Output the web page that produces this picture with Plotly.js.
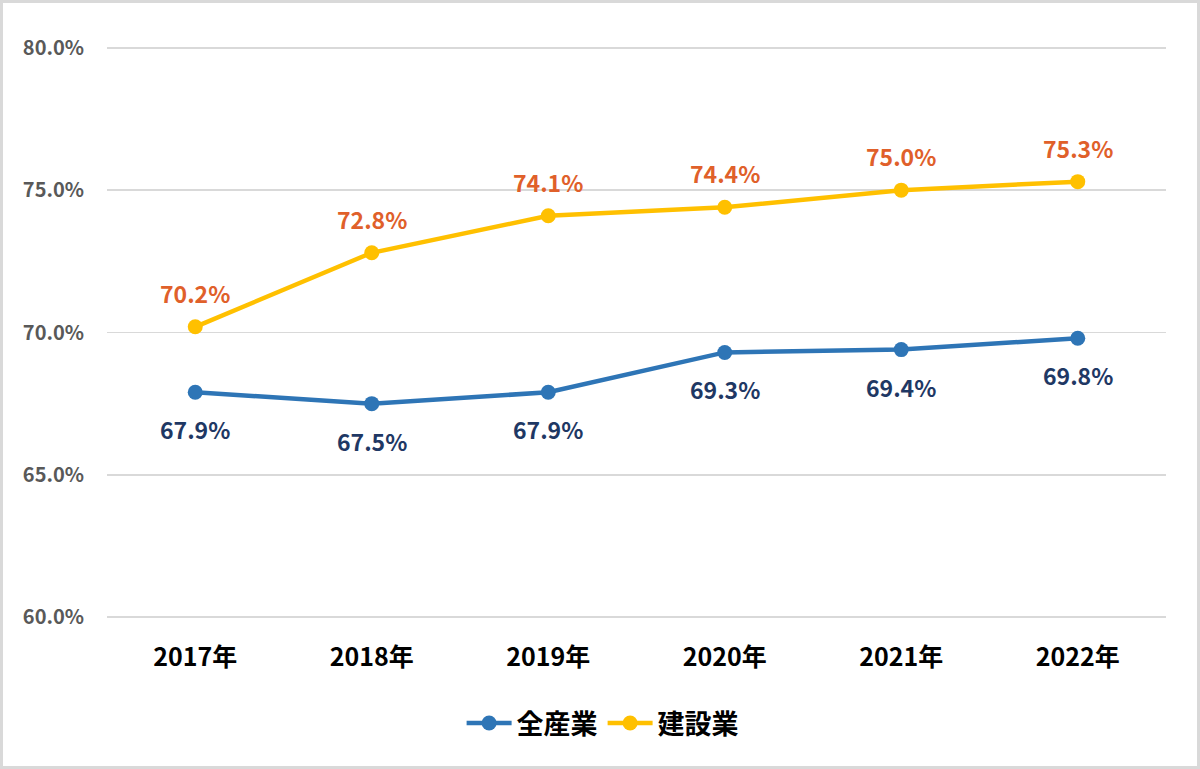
<!DOCTYPE html>
<html><head><meta charset="utf-8">
<script src="https://cdn.plot.ly/plotly-3.0.1.min.js"></script>
<style>
html,body{margin:0;padding:0;background:#fff;}
#wrap{position:relative;width:1200px;height:769px;}
#chart{width:1200px;height:769px;}
#frame{position:absolute;left:0;top:0;width:1200px;height:769px;box-sizing:border-box;border:3px solid #d9d9d9;pointer-events:none;}
</style></head>
<body>
<div id="wrap"><div id="chart"></div><div id="frame"></div></div>
<script>
const years = ["2017年","2018年","2019年","2020年","2021年","2022年"];
const allIndustry = [67.9, 67.5, 67.9, 69.3, 69.4, 69.8];
const construction = [70.2, 72.8, 74.1, 74.4, 75.0, 75.3];
const seriesNames = ["全産業","建設業"];
const yTicks = [60, 65, 70, 75, 80];

const FONT = "'Noto Sans CJK JP', 'Noto Sans', sans-serif";
const blue = "#2E75B6", gold = "#FFC000";
const blueLabel = "#1F3864", orangeLabel = "#E0602A";

const traces = [
  {x: years, y: allIndustry, name: seriesNames[0], type: "scatter", mode: "lines+markers",
   line: {color: blue, width: 4.5}, marker: {color: blue, size: 15}},
  {x: years, y: construction, name: seriesNames[1], type: "scatter", mode: "lines+markers",
   line: {color: gold, width: 4.5}, marker: {color: gold, size: 15}}
];

const annotations = [];
years.forEach((yr, i) => {
  annotations.push({x: yr, y: construction[i], text: construction[i].toFixed(1) + "%", showarrow: false,
    yshift: 34, font: {family: FONT, size: 23, color: orangeLabel, weight: "bold"}});
  annotations.push({x: yr, y: allIndustry[i], text: allIndustry[i].toFixed(1) + "%", showarrow: false,
    yshift: -37, font: {family: FONT, size: 23, color: blueLabel, weight: "bold"}});
});

const layout = {
  width: 1200, height: 769,
  margin: {l: 107, r: 34, t: 45, b: 149, autoexpand: false},
  paper_bgcolor: "#fff", plot_bgcolor: "#fff",
  font: {family: FONT},
  showlegend: true,
  legend: {orientation: "h", x: 0.468, xanchor: "center", y: -0.18, yanchor: "middle",
    itemwidth: 45,
    font: {family: FONT, size: 27, color: "#000", weight: "bold"}},
  xaxis: {type: "category", range: [-0.5, 5.5], showgrid: false, zeroline: false, showline: false, ticks: "",
    tickangle: 0, automargin: false,
    tickfont: {family: FONT, size: 25, color: "#000", weight: "bold"}, ticklabelstandoff: 20},
  yaxis: {range: [59.9, 80.1], tickvals: yTicks, ticktext: yTicks.map(v => v.toFixed(1) + "%"),
    showgrid: true, gridcolor: "#d9d9d9", gridwidth: 1.5, zeroline: false, showline: false, ticks: "",
    automargin: false,
    tickfont: {family: FONT, size: 20, color: "#595959", weight: "bold"}, ticklabelstandoff: 22},
  annotations: annotations
};

Plotly.newPlot("chart", traces, layout, {staticPlot: true, displayModeBar: false});
</script>
</body></html>
